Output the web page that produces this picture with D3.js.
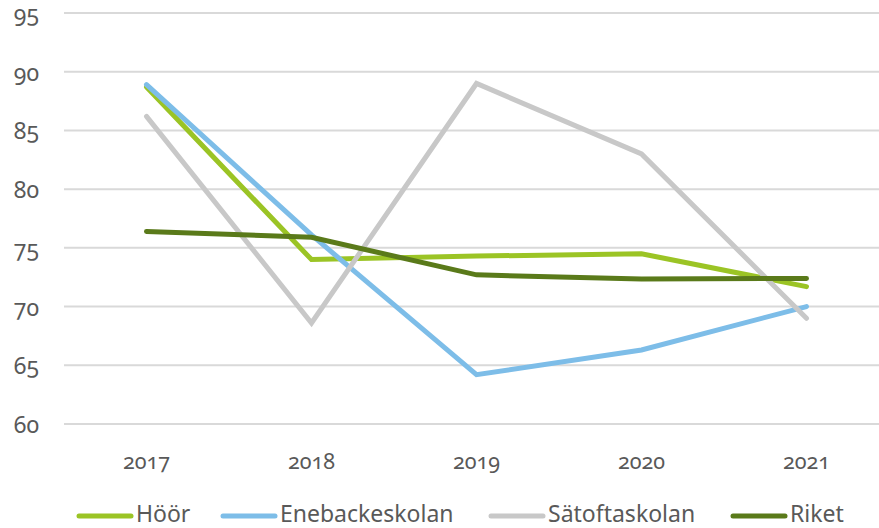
<!DOCTYPE html>
<html>
<head>
<meta charset="utf-8">
<script src="https://cdn.jsdelivr.net/npm/d3@7"></script>
<style>
  body { margin: 0; background: #fff; }
  svg { display: block; font-family: "Noto Sans", "Open Sans", sans-serif; font-variant-numeric: oldstyle-nums; }
</style>
</head>
<body>
<svg id="chart" width="879" height="528"></svg>
<script>
var years = ["2017", "2018", "2019", "2020", "2021"];
var yTicks = [60, 65, 70, 75, 80, 85, 90, 95];
var hoor = [88.7, 74.0, 74.3, 74.5, 71.7];
var enebacke = [88.9, 76.1, 64.2, 66.3, 70.0];
var satofta = [86.2, 68.6, 89.0, 83.0, 69.0];
var riket = [76.4, 75.9, 72.7, 72.35, 72.4];

var series = [
  { name: "Höör", values: hoor, color: "#9bc425" },
  { name: "Enebackeskolan", values: enebacke, color: "#7dbde8" },
  { name: "Sätoftaskolan", values: satofta, color: "#c8c8c8" },
  { name: "Riket", values: riket, color: "#5a7a1a" }
];

var svg = d3.select("svg#chart"),
    plotLeft = 64, plotRight = 889, plotTop = 13, plotBottom = 424;

var x = d3.scaleBand().domain(years).range([plotLeft, plotRight]);
var y = d3.scaleLinear().domain([60, 95]).range([plotBottom, plotTop]);

// grid
svg.append("g").selectAll("line")
  .data(yTicks)
  .enter().append("line")
    .attr("x1", plotLeft).attr("x2", 879)
    .attr("y1", function(d) { return y(d); })
    .attr("y2", function(d) { return y(d); })
    .attr("stroke", "#d9d9d9")
    .attr("stroke-width", 2);

// y labels
svg.append("g").selectAll("text")
  .data(yTicks)
  .enter().append("text")
    .attr("x", 39)
    .attr("y", function(d) { return y(d) + 1; })
    .attr("dy", "0.35em")
    .attr("text-anchor", "end")
    .attr("font-size", 23)
    .attr("fill", "#595959")
    .text(function(d) { return d; });

// x labels
svg.append("g").selectAll("text")
  .data(years)
  .enter().append("text")
    .attr("x", function(d) { return x(d) + x.bandwidth() / 2; })
    .attr("y", 461)
    .attr("dy", "0.35em")
    .attr("text-anchor", "middle")
    .attr("font-size", 21.5)
    .attr("fill", "#595959")
    .text(function(d) { return d; });

var line = d3.line()
    .x(function(d, i) { return x(years[i]) + x.bandwidth() / 2; })
    .y(function(d) { return y(d); });

svg.append("g").selectAll("path")
  .data(series)
  .enter().append("path")
    .attr("d", function(d) { return line(d.values); })
    .attr("fill", "none")
    .attr("stroke", function(d) { return d.color; })
    .attr("stroke-width", 5)
    .attr("stroke-linecap", "round")
    .attr("stroke-linejoin", "miter");

// legend
var legendX = [77, 221, 489, 731];
var lg = svg.append("g").selectAll("g")
  .data(series)
  .enter().append("g")
    .attr("transform", function(d, i) { return "translate(" + legendX[i] + ",516)"; });

lg.append("line")
    .attr("x1", 2).attr("x2", 54)
    .attr("stroke", function(d) { return d.color; })
    .attr("stroke-width", 5)
    .attr("stroke-linecap", "round");

lg.append("text")
    .attr("x", 59)
    .attr("y", 6)
    .attr("font-size", 23)
    .attr("fill", "#595959")
    .text(function(d) { return d.name; });
</script>
</body>
</html>
